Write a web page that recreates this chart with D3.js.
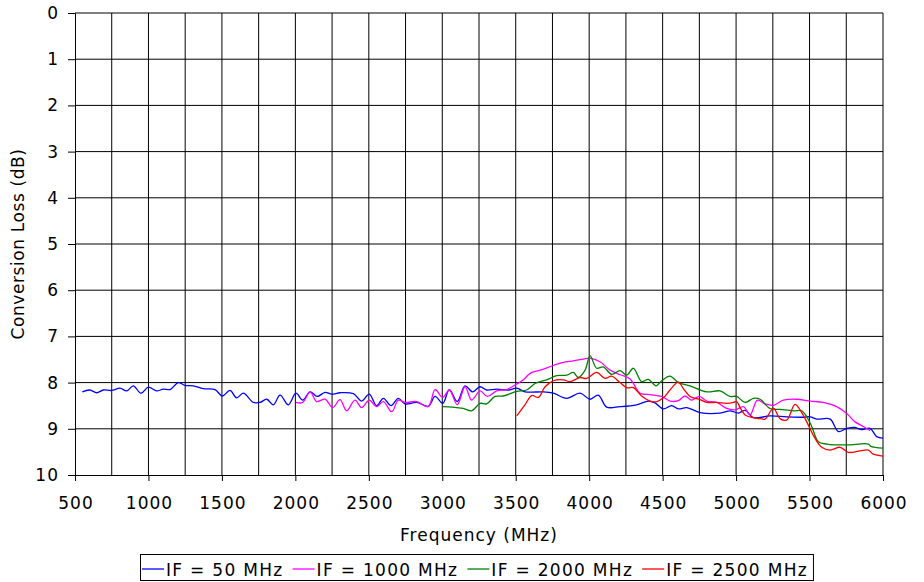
<!DOCTYPE html>
<html>
<head>
    <title>Conversion Loss</title>
    <script src="https://cdnjs.cloudflare.com/ajax/libs/d3/7.8.5/d3.min.js"></script>
    <style>
        body { margin: 0; background: white; }
        text { font-family: "DejaVu Sans", Verdana, sans-serif; font-size: 17px; letter-spacing: 1px; fill: #000; }
        .grid line { stroke: #000; stroke-width: 1; }
        .series { fill: none; stroke-width: 1.3px; }
        .legend text { letter-spacing: 1.3px; }
    </style>
</head>
<body>
    <svg id="chart"></svg>

    <script>
        const width = 924;
        const height = 582;

        // tick values
        const xTicks = [500, 1000, 1500, 2000, 2500, 3000, 3500, 4000, 4500, 5000, 5500, 6000];
        const yTicks = [0, 1, 2, 3, 4, 5, 6, 7, 8, 9, 10];

        // series: [frequency MHz, conversion loss dB]
        const if50 = [[550,8.20],[600,8.16],[648,8.22],[693,8.16],[750,8.17],[806,8.12],[852,8.18],[897,8.07],[949,8.23],[999,8.10],[1056,8.18],[1101,8.14],[1147,8.15],[1203,8.00],[1249,8.06],[1305,8.07],[1373,8.13],[1453,8.15],[1503,8.29],[1555,8.17],[1600,8.33],[1646,8.23],[1714,8.43],[1759,8.43],[1805,8.36],[1850,8.48],[1896,8.27],[1952,8.48],[2004,8.23],[2050,8.38],[2100,8.20],[2149,8.30],[2202,8.21],[2247,8.25],[2304,8.22],[2395,8.24],[2451,8.40],[2503,8.25],[2553,8.50],[2599,8.34],[2651,8.50],[2701,8.34],[2746,8.46],[2825,8.43],[2905,8.51],[2951,8.30],[3003,8.45],[3048,8.15],[3102,8.41],[3155,8.07],[3207,8.20],[3257,8.09],[3302,8.16],[3370,8.14],[3450,8.16],[3507,8.12],[3563,8.20],[3688,8.20],[3756,8.23],[3847,8.34],[3938,8.23],[4006,8.36],[4062,8.27],[4119,8.53],[4210,8.52],[4323,8.48],[4403,8.40],[4448,8.44],[4505,8.57],[4561,8.50],[4607,8.57],[4664,8.54],[4755,8.65],[4891,8.66],[4959,8.61],[5016,8.66],[5061,8.60],[5118,8.76],[5231,8.72],[5345,8.74],[5458,8.75],[5504,8.74],[5549,8.79],[5640,8.79],[5696,9.06],[5753,8.99],[5810,8.97],[5855,9.02],[5912,8.99],[5957,9.17],[6000,9.20]];

        const if1000 = [[2004,8.43],[2050,8.43],[2100,8.20],[2145,8.41],[2202,8.36],[2254,8.54],[2304,8.37],[2349,8.61],[2406,8.38],[2451,8.54],[2503,8.38],[2553,8.52],[2599,8.41],[2656,8.63],[2701,8.38],[2746,8.43],[2825,8.41],[2905,8.52],[2951,8.15],[3003,8.32],[3048,8.16],[3102,8.48],[3155,8.09],[3200,8.38],[3257,8.18],[3307,8.30],[3370,8.18],[3439,8.15],[3507,8.03],[3552,7.94],[3598,7.80],[3666,7.73],[3756,7.63],[3824,7.56],[3892,7.53],[3960,7.49],[4006,7.47],[4074,7.55],[4142,7.73],[4210,7.83],[4278,7.92],[4346,8.23],[4414,8.26],[4494,8.30],[4550,8.40],[4607,8.39],[4652,8.29],[4697,8.38],[4750,8.30],[4800,8.40],[4868,8.43],[4936,8.56],[4993,8.59],[5050,8.52],[5095,8.70],[5145,8.38],[5197,8.46],[5254,8.49],[5322,8.38],[5413,8.36],[5504,8.40],[5594,8.43],[5685,8.52],[5753,8.67],[5810,8.85],[5866,8.95],[5912,9.04]];

        const if2000 = [[3003,8.52],[3070,8.53],[3143,8.56],[3200,8.61],[3257,8.45],[3302,8.46],[3359,8.30],[3415,8.29],[3507,8.19],[3575,8.16],[3631,8.02],[3711,7.94],[3779,7.85],[3847,7.84],[3892,7.78],[3926,7.89],[3972,7.73],[4006,7.42],[4051,7.69],[4096,7.66],[4153,7.82],[4210,7.74],[4255,7.84],[4301,7.69],[4357,7.98],[4403,7.93],[4455,8.07],[4494,7.96],[4550,7.86],[4607,8.00],[4687,8.07],[4800,8.20],[4891,8.18],[4959,8.30],[5004,8.30],[5061,8.43],[5118,8.34],[5163,8.36],[5231,8.56],[5299,8.58],[5390,8.61],[5447,8.61],[5481,8.74],[5515,8.95],[5560,9.28],[5617,9.33],[5753,9.35],[5900,9.33],[5917,9.38],[6000,9.42]];

        const if2500 = [[3507,8.72],[3563,8.48],[3609,8.28],[3654,8.32],[3700,8.09],[3756,7.96],[3824,7.94],[3869,7.98],[3938,7.89],[3983,7.91],[4051,7.78],[4108,7.91],[4153,7.86],[4210,8.00],[4255,8.11],[4301,8.11],[4357,8.29],[4414,8.40],[4460,8.41],[4505,8.33],[4550,8.16],[4607,7.99],[4641,8.13],[4687,8.30],[4755,8.37],[4800,8.43],[4868,8.43],[4936,8.45],[4982,8.43],[5004,8.41],[5027,8.54],[5061,8.70],[5118,8.76],[5163,8.78],[5197,8.79],[5254,8.56],[5299,8.78],[5345,8.81],[5401,8.47],[5447,8.65],[5492,8.92],[5538,9.21],[5583,9.40],[5640,9.46],[5708,9.40],[5764,9.51],[5844,9.48],[5900,9.46],[5934,9.55],[6000,9.59]];

        const seriesNames = ["IF = 50 MHz", "IF = 1000 MHz", "IF = 2000 MHz", "IF = 2500 MHz"];
        const seriesData = [if50, if1000, if2000, if2500];
        const seriesColors = ["#0000ff", "#ff00ff", "#008000", "#ff0000"];

        const margin = {top: 13, right: 41, bottom: 107, left: 75};

        const svg = d3.select("#chart")
            .attr("width", width)
            .attr("height", height);

        const x = d3.scaleLinear().domain([500, 6000]).range([margin.left, width - margin.right]);
        const y = d3.scaleLinear().domain([0, 10]).range([margin.top, height - margin.bottom]);

        // grid, every 250 MHz and every dB
        const grid = svg.append("g").attr("class", "grid");
        grid.selectAll(".vg")
            .data(d3.range(750, 6001, 250))
            .join("line")
            .attr("x1", d => x(d)).attr("x2", d => x(d))
            .attr("y1", y(0)).attr("y2", y(10));
        grid.selectAll(".hg")
            .data(yTicks.slice(0, -1))
            .join("line")
            .attr("x1", x(500)).attr("x2", x(6000))
            .attr("y1", d => y(d)).attr("y2", d => y(d));

        // axes
        svg.append("g")
            .attr("transform", `translate(0,${y(10)})`)
            .call(d3.axisBottom(x).tickValues(xTicks).tickSize(6).tickPadding(16).tickFormat(d3.format("d")))
            .call(g => g.select(".domain").attr("stroke", "#000"))
            .call(g => g.selectAll("text").style("font-size", "17px").attr("dx", "0.5px"));

        svg.append("g")
            .attr("transform", `translate(${x(500)},0)`)
            .call(d3.axisLeft(y).tickValues(yTicks).tickSize(7).tickPadding(9))
            .call(g => g.select(".domain").attr("stroke", "#000"))
            .call(g => g.selectAll("text").style("font-size", "17px"));

        // series lines
        const line = d3.line()
            .x(d => x(d[0]))
            .y(d => y(d[1]))
            .curve(d3.curveCatmullRom.alpha(0.5));

        svg.selectAll(".series")
            .data(seriesData)
            .join("path")
            .attr("class", "series")
            .attr("stroke", (d, i) => seriesColors[i])
            .attr("d", line);

        // axis titles
        svg.append("text")
            .attr("x", (x(500) + x(6000)) / 2)
            .attr("y", 541)
            .attr("text-anchor", "middle")
            .text("Frequency (MHz)");

        svg.append("text")
            .attr("transform", `translate(24,${(y(0) + y(10)) / 2}) rotate(-90)`)
            .attr("text-anchor", "middle")
            .style("letter-spacing", "0.6px")
            .text("Conversion Loss (dB)");

        // legend
        const legend = svg.append("g").attr("class", "legend");
        const legendBox = legend.append("rect")
            .attr("fill", "white")
            .attr("stroke", "#000");
        let lx = 142;
        seriesNames.forEach((name, i) => {
            legend.append("line")
                .attr("x1", lx).attr("x2", lx + 22)
                .attr("y1", 569).attr("y2", 569)
                .attr("stroke", seriesColors[i])
                .attr("stroke-width", 1.3);
            const t = legend.append("text")
                .attr("x", lx + 24)
                .attr("y", 576)
                .text(name);
            lx += 24 + t.node().getComputedTextLength() + 9;
        });
        legendBox
            .attr("x", 140.5).attr("y", 554.5)
            .attr("width", lx - 140 - 4).attr("height", 26);
    </script>
</body>
</html>
